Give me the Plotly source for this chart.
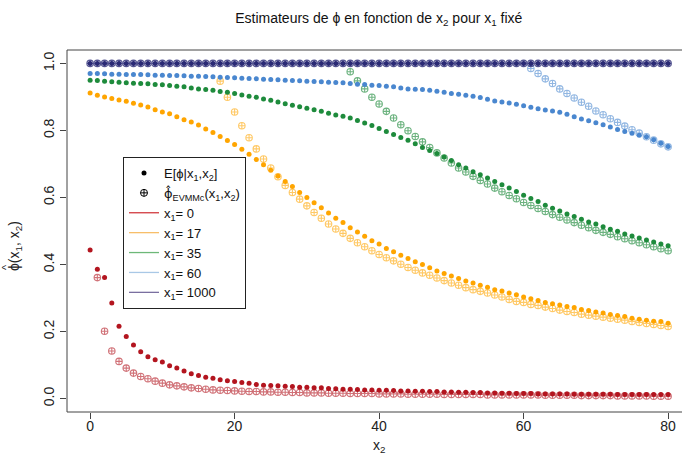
import plotly.graph_objects as go

# x2 grid (0..80)
x2 = list(range(81))
N = None

# E[phi | x1, x2]  (filled dots)
e_x1_0 = [0.443, 0.386, 0.361, 0.285, 0.216, 0.185, 0.160, 0.140, 0.125, 0.116,
          0.109, 0.098, 0.091, 0.082, 0.074, 0.069, 0.064, 0.061, 0.056, 0.053,
          0.051, 0.048, 0.046, 0.042, 0.040, 0.039, 0.038, 0.037, 0.036, 0.034,
          0.034, 0.032, 0.032, 0.030, 0.029, 0.028, 0.028, 0.027, 0.026, 0.026,
          0.025, 0.025, 0.024, 0.023, 0.023, 0.022, 0.022, 0.021, 0.021, 0.020,
          0.020, 0.019, 0.019, 0.018, 0.018, 0.017, 0.017, 0.016, 0.016, 0.015,
          0.015, 0.015, 0.014, 0.014, 0.014, 0.014, 0.014, 0.013, 0.013, 0.013,
          0.013, 0.013, 0.013, 0.012, 0.012, 0.012, 0.012, 0.012, 0.012, 0.012,
          0.012]
e_x1_17 = [0.912, 0.905, 0.900, 0.895, 0.891, 0.887, 0.881, 0.876, 0.870, 0.862,
           0.855, 0.850, 0.841, 0.832, 0.825, 0.816, 0.804, 0.794, 0.782, 0.770,
           0.758, 0.744, 0.729, 0.713, 0.698, 0.681, 0.664, 0.648, 0.633, 0.615,
           0.600, 0.584, 0.569, 0.554, 0.538, 0.525, 0.510, 0.497, 0.484, 0.471,
           0.461, 0.448, 0.438, 0.428, 0.418, 0.408, 0.400, 0.390, 0.381, 0.373,
           0.366, 0.358, 0.351, 0.345, 0.338, 0.332, 0.325, 0.321, 0.315, 0.310,
           0.303, 0.298, 0.293, 0.287, 0.283, 0.279, 0.275, 0.272, 0.266, 0.263,
           0.258, 0.255, 0.251, 0.248, 0.245, 0.240, 0.237, 0.234, 0.231, 0.230,
           0.225]
e_x1_35 = [0.950, 0.949, 0.947, 0.945, 0.944, 0.942, 0.941, 0.940, 0.939, 0.937,
           0.936, 0.934, 0.932, 0.930, 0.927, 0.924, 0.922, 0.920, 0.916, 0.914,
           0.910, 0.906, 0.902, 0.899, 0.894, 0.890, 0.885, 0.880, 0.875, 0.871,
           0.866, 0.862, 0.857, 0.851, 0.846, 0.842, 0.837, 0.830, 0.822, 0.815,
           0.806, 0.797, 0.788, 0.779, 0.771, 0.760, 0.749, 0.740, 0.731, 0.721,
           0.710, 0.698, 0.688, 0.677, 0.668, 0.658, 0.648, 0.638, 0.628, 0.618,
           0.607, 0.597, 0.588, 0.577, 0.568, 0.560, 0.551, 0.543, 0.535, 0.527,
           0.521, 0.513, 0.505, 0.499, 0.491, 0.485, 0.479, 0.473, 0.467, 0.461,
           0.456]
e_x1_60 = [0.970, 0.970, 0.969, 0.968, 0.968, 0.967, 0.967, 0.967, 0.966, 0.965,
           0.965, 0.964, 0.964, 0.963, 0.962, 0.962, 0.961, 0.960, 0.959, 0.958,
           0.957, 0.956, 0.955, 0.954, 0.953, 0.952, 0.951, 0.950, 0.949, 0.948,
           0.947, 0.946, 0.945, 0.944, 0.943, 0.942, 0.940, 0.938, 0.937, 0.935,
           0.934, 0.932, 0.930, 0.927, 0.924, 0.923, 0.922, 0.920, 0.917, 0.914,
           0.910, 0.908, 0.905, 0.902, 0.898, 0.893, 0.888, 0.885, 0.882, 0.878,
           0.874, 0.869, 0.865, 0.861, 0.858, 0.854, 0.848, 0.841, 0.834, 0.829,
           0.823, 0.817, 0.810, 0.803, 0.797, 0.792, 0.786, 0.781, 0.772, 0.762,
           0.752]
e_x1_1000 = [1.0] * 81

# phi-hat EVMMc estimator (circled crosses); undefined while x2 <= x1
h_x1_0 = [N, 0.361, 0.201, 0.142, 0.111, 0.091, 0.076, 0.066, 0.059, 0.052,
          0.046, 0.041, 0.038, 0.035, 0.032, 0.030, 0.028, 0.026, 0.025, 0.024,
          0.023, 0.022, 0.021, 0.021, 0.020, 0.020, 0.019, 0.019, 0.018, 0.018,
          0.017, 0.017, 0.017, 0.016, 0.016, 0.016, 0.015, 0.015, 0.015, 0.015,
          0.014, 0.014, 0.014, 0.014, 0.013, 0.013, 0.013, 0.013, 0.013, 0.012,
          0.012, 0.012, 0.012, 0.012, 0.012, 0.011, 0.011, 0.011, 0.011, 0.011,
          0.011, 0.011, 0.011, 0.010, 0.010, 0.010, 0.010, 0.010, 0.009, 0.009,
          0.009, 0.009, 0.009, 0.008, 0.008, 0.008, 0.008, 0.008, 0.007, 0.007,
          0.007]
h_x1_17 = [N] * 18 + [
           0.947, 0.899, 0.855, 0.814, 0.778, 0.745, 0.715, 0.688, 0.662, 0.636,
           0.615, 0.595, 0.575, 0.555, 0.538, 0.521, 0.506, 0.493, 0.478, 0.465,
           0.453, 0.441, 0.430, 0.420, 0.411, 0.401, 0.391, 0.383, 0.375, 0.368,
           0.360, 0.352, 0.345, 0.338, 0.331, 0.325, 0.320, 0.315, 0.309, 0.303,
           0.296, 0.290, 0.287, 0.281, 0.278, 0.273, 0.269, 0.264, 0.260, 0.257,
           0.252, 0.249, 0.246, 0.243, 0.240, 0.237, 0.234, 0.230, 0.227, 0.224,
           0.221, 0.218, 0.215]
h_x1_35 = [N] * 36 + [
           0.975, 0.948, 0.924, 0.899, 0.879, 0.857, 0.837, 0.817, 0.799, 0.782,
           0.766, 0.749, 0.733, 0.718, 0.703, 0.688, 0.676, 0.663, 0.651, 0.640,
           0.628, 0.617, 0.606, 0.596, 0.585, 0.576, 0.567, 0.558, 0.549, 0.541,
           0.533, 0.525, 0.517, 0.510, 0.502, 0.496, 0.490, 0.483, 0.477, 0.471,
           0.465, 0.459, 0.453, 0.447, 0.441]
h_x1_60 = [N] * 61 + [
           0.985, 0.970, 0.954, 0.940, 0.924, 0.910, 0.897, 0.884, 0.872, 0.858,
           0.847, 0.835, 0.824, 0.813, 0.802, 0.792, 0.781, 0.771, 0.760, 0.751]
h_x1_1000 = [1.0] * 81

x1_labels = ["0", "17", "35", "60", "1000"]
e_series = [e_x1_0, e_x1_17, e_x1_35, e_x1_60, e_x1_1000]
h_series = [h_x1_0, h_x1_17, h_x1_35, h_x1_60, h_x1_1000]

dot_colors = ["#B3151F", "#FFA500", "#1E8B3C", "#4A87CF", "#2B2A75"]
cross_colors = ["rgba(179,21,31,0.6)", "rgba(255,165,0,0.6)", "rgba(30,139,60,0.65)",
                "rgba(74,135,207,0.6)", "rgba(43,42,117,0.8)"]
legend_line_colors = ["#D23A3F", "#F7BE6A", "#6DB878", "#A9C8E6", "#7A6FA0"]

FONT = "Liberation Sans, Arial, sans-serif"
HAT_PHI = '<span style="font-family:DejaVu Sans">ϕ̂</span>'

fig = go.Figure()

# legend-only entries for the two point types
fig.add_trace(go.Scatter(x=[N], y=[N], mode="markers",
                         marker=dict(symbol="circle", size=5, color="black"),
                         name="E[ϕ|x<sub>1</sub>,x<sub>2</sub>]"))
fig.add_trace(go.Scatter(x=[N], y=[N], mode="markers",
                         marker=dict(symbol="circle-cross-open", size=7, color="black",
                                     line=dict(width=1)),
                         name=HAT_PHI + "<sub>EVMMc</sub>(x<sub>1</sub>,x<sub>2</sub>)"))
# legend-only entries for the x1 colours
for lab, col in zip(x1_labels, legend_line_colors):
    fig.add_trace(go.Scatter(x=[N], y=[N], mode="lines",
                             line=dict(color=col, width=1.3),
                             name="x<sub>1</sub>= " + lab))

# data points
for e, h, dc, cc in zip(e_series, h_series, dot_colors, cross_colors):
    fig.add_trace(go.Scatter(x=x2, y=e, mode="markers", showlegend=False,
                             marker=dict(symbol="circle", size=5, color=dc,
                                         line=dict(width=0)),
                             hoverinfo="skip"))
    fig.add_trace(go.Scatter(x=x2, y=h, mode="markers", showlegend=False,
                             marker=dict(symbol="circle-cross-open", size=6.5,
                                         color=cc, line=dict(width=1.1)),
                             hoverinfo="skip"))

L, R, T, B = 67, 0, 50, 49
W, H = 682, 461
plot_w = W - L - R
plot_h = H - T - B
px_per_x = 578 / 80.0
x0 = -3.2

fig.update_layout(
    width=W, height=H, autosize=False,
    margin=dict(l=L, r=R, t=T, b=B, pad=0),
    paper_bgcolor="white", plot_bgcolor="white",
    font=dict(family=FONT, size=13, color="#222"),
    title=dict(text="Estimateurs de ϕ en fonction de x<sub>2</sub> pour x<sub>1</sub> fixé",
               x=0.507, xref="paper", xanchor="center",
               y=1 - 18 / H, yref="container", yanchor="middle",
               font=dict(size=14, color="#111")),
    xaxis=dict(range=[x0, x0 + plot_w / px_per_x], tickvals=[0, 20, 40, 60, 80],
               ticks="outside", ticklen=6, tickwidth=1, tickcolor="#444",
               ticklabelstandoff=-5,
               showgrid=False, zeroline=False, showline=False,
               tickfont=dict(size=14, color="#222")),
    yaxis=dict(range=[-0.04, 1.04], tickvals=[0, 0.2, 0.4, 0.6, 0.8, 1.0],
               ticktext=["0.0", "0.2", "0.4", "0.6", "0.8", "1.0"], tickangle=-90,
               ticks="outside", ticklen=6, tickwidth=1, tickcolor="#444",
               showgrid=False, zeroline=False, showline=False,
               tickfont=dict(size=14, color="#222")),
    legend=dict(x=(123 - L) / plot_w, y=(H - B - 157) / plot_h,
                xanchor="left", yanchor="top",
                bordercolor="#222", borderwidth=1, bgcolor="white",
                font=dict(size=13, color="#111"), tracegroupgap=0,
                itemsizing="trace"),
    showlegend=True,
)

# plot frame
fig.add_shape(type="rect", xref="paper", yref="paper",
              x0=0, x1=(691 - L) / plot_w, y0=0, y1=1,
              line=dict(color="#444", width=1), layer="below")

# axis titles
fig.add_annotation(text="x<sub>2</sub>", xref="paper", yref="paper",
                   x=(379 - L) / plot_w, y=-(446 - (H - B)) / plot_h,
                   xanchor="center", yanchor="middle", showarrow=False,
                   font=dict(size=14, color="#222"))
fig.add_annotation(text="ϕ(x<sub>1</sub>, x<sub>2</sub>)", xref="paper", yref="paper",
                   x=(15 - L) / plot_w, y=(H - B - 246) / plot_h, textangle=-90,
                   xanchor="center", yanchor="middle", showarrow=False,
                   font=dict(size=14, color="#222"))
# circumflex over the phi of the y title
fig.add_annotation(text="^", xref="paper", yref="paper",
                   x=(6 - L) / plot_w, y=(H - B - 267) / plot_h, textangle=-90,
                   xanchor="center", yanchor="middle", showarrow=False,
                   font=dict(size=11, color="#222"))

fig.write_html("out.html")
